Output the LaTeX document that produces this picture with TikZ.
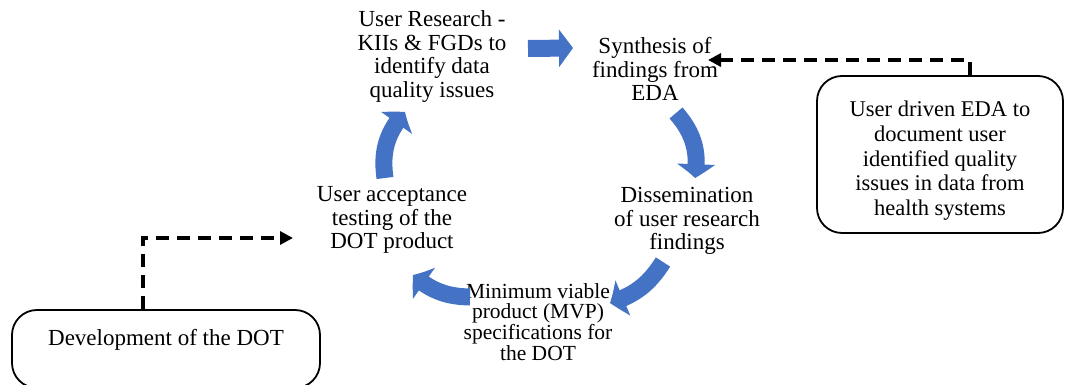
\documentclass[tikz,border=0pt]{standalone}
\usepackage{fontspec}
\setmainfont{Liberation Serif}
\usetikzlibrary{arrows.meta,bending}
\definecolor{arrowblue}{HTML}{4472C4}
\begin{document}
\begin{tikzpicture}[x=1pt,y=1pt,
  lbl/.style={align=center, font=\fontsize{23}{23.8}\selectfont, inner sep=0pt},
  lblsmall/.style={align=center, font=\fontsize{21.5}{20.8}\selectfont, inner sep=0pt},
  boxnode/.style={draw=black, line width=1.8pt, rounded corners=25pt, align=center},
  bluearr/.style={draw=arrowblue, line width=17pt, -{Triangle[length=14pt,width=37pt,bend]}},
  dashline/.style={draw=black, line width=3.2pt, dash pattern=on 13pt off 8pt, -{Triangle[length=13pt,width=13pt]}}
]
\useasboundingbox (0,0) rectangle (1065,385);

% cycle texts
\node[lbl] (ur) at (432,328.5) {User Research -\\KIIs \& FGDs to\\identify data\\quality issues};
\node[lbl] (syn) at (655,316) {Synthesis of\\findings from\\EDA};
\node[lbl] (dis) at (687,164) {Dissemination\\of user research\\findings};
\node[lbl] (uat) at (392,165) {User acceptance\\testing of the\\DOT product};
\node[lblsmall] (mvp) at (538,63) {Minimum viable\\product (MVP)\\specifications for\\the DOT};

% side boxes
\node[boxnode, minimum width=246pt, minimum height=157pt, font=\fontsize{22.5}{24.8}\selectfont] (rbox) at (940,230.5)
  {\rule{0pt}{28pt}User driven EDA to\\document user\\identified quality\\issues in data from\\health systems};
\node[boxnode, minimum width=308pt, inner sep=0pt, text height=36pt, text depth=42pt, font=\fontsize{23}{24}\selectfont] (lbox) at (166,36)
  {Development of the DOT};

% blue cycle arrows
\coordinate (a1s) at (528,336.5);
\coordinate (a1e) at (573,337);
\coordinate (a2s) at (676,272);
\coordinate (a2e) at (695,207);
\coordinate (a3s) at (663,123);
\coordinate (a3e) at (610,82);
\coordinate (a4s) at (470,88);
\coordinate (a4e) at (413,110);
\coordinate (a5s) at (385,207);
\coordinate (a5e) at (405,273);

\draw[bluearr] (a1s) -- (a1e);
\draw[bluearr] (a2s) to[bend left=25] (a2e);
\draw[bluearr] (a3s) to[bend left=20] (a3e);
\draw[bluearr] (a4s) to[bend left=20] (a4e);
\draw[bluearr] (a5s) to[bend left=25] (a5e);

% dashed connectors
\coordinate (synin) at (708,325);
\coordinate (uatin) at (293,147);
\draw[dashline] ([xshift=30pt]rbox.north) |- (synin);
\draw[dashline] ([xshift=-23pt]lbox.north) |- (uatin);
\end{tikzpicture}
\end{document}
